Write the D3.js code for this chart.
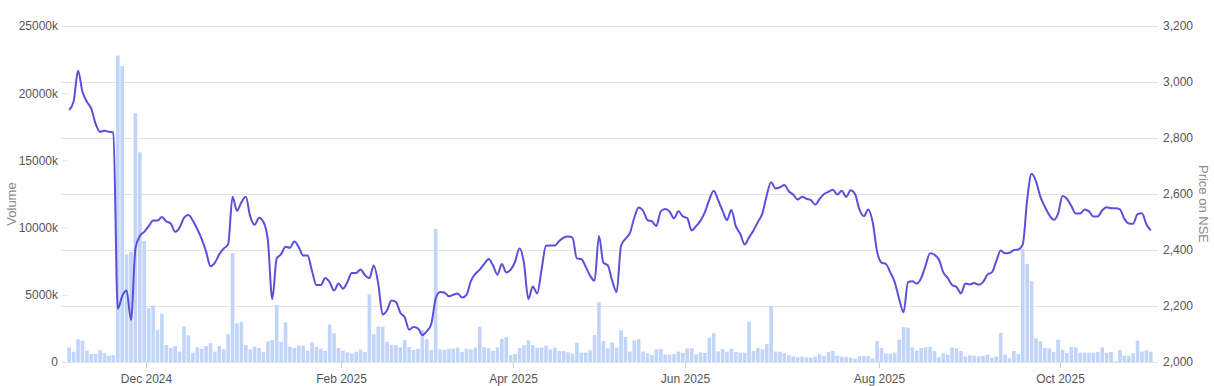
<!DOCTYPE html>
<html>
<head>
<meta charset="utf-8">
<script src="https://cdn.jsdelivr.net/npm/d3@7"></script>
<style>
    body { margin: 0; background: #fff; }
    svg { display: block; font-family: "Liberation Sans", Arial, sans-serif; }
</style>
</head>
<body>
<div id="chart"></div>
<script>
// daily volume, in thousands of shares (one value per trading day)
const volume = [
    1070, 770, 1690, 1590, 840, 600, 600, 890, 670, 470,
    520, 22800, 22000, 8000, 8200, 18500, 15600, 9000, 4000, 4200,
    2400, 3600, 1260, 1030, 1190, 770, 2630, 1990, 690, 1090,
    990, 1190, 1390, 770, 1190, 940, 2060, 8100, 2880, 3000,
    1260, 940, 1140, 1040, 740, 1540, 1640, 4240, 1510, 2950,
    1140, 1040, 1220, 1220, 840, 1460, 1140, 990, 820, 2800,
    2130, 1040, 840, 720, 640, 770, 920, 740, 5030, 2060,
    2630, 2630, 1510, 1260, 1260, 1090, 1640, 1090, 890, 990,
    2380, 1690, 890, 9900, 940, 890, 970, 990, 1070, 740,
    990, 940, 1070, 2630, 1090, 1020, 840, 1090, 1710, 1860,
    520, 600, 1040, 1240, 1610, 1260, 1040, 1070, 1220, 940,
    1070, 820, 820, 720, 640, 1440, 690, 690, 870, 2010,
    4440, 1560, 1020, 1460, 1070, 2360, 1860, 770, 1610, 1690,
    770, 640, 520, 940, 970, 550, 550, 600, 790, 690,
    1020, 1020, 570, 720, 670, 1810, 2130, 790, 970, 770,
    970, 740, 690, 690, 3000, 820, 1040, 940, 1340, 4170,
    770, 770, 640, 500, 420, 370, 400, 350, 320, 400,
    570, 450, 740, 820, 470, 400, 370, 320, 250, 420,
    450, 450, 270, 1560, 1040, 640, 620, 690, 1660, 2600,
    2550, 1090, 840, 1040, 1090, 1120, 820, 370, 640, 550,
    1090, 1020, 820, 420, 500, 470, 420, 450, 550, 320,
    400, 2180, 550, 270, 820, 600, 8400, 7300, 6000, 1760,
    1540, 1040, 1020, 740, 1660, 920, 670, 1120, 1090, 690,
    690, 690, 690, 740, 1070, 690, 740, 50, 890, 470,
    470, 640, 1590, 770, 870, 770
]

// closing price on NSE
const price = [
    2900, 2930, 3040, 2965, 2930, 2905, 2850, 2822, 2826, 2822,
    2820, 2190, 2235, 2255, 2150, 2405, 2450, 2465, 2485, 2505,
    2505, 2518, 2502, 2495, 2465, 2480, 2515, 2525, 2505, 2475,
    2440, 2395, 2342, 2355, 2385, 2405, 2420, 2590, 2540, 2570,
    2590, 2520, 2490, 2515, 2500, 2435, 2225, 2370, 2385, 2412,
    2408, 2430, 2410, 2380, 2380, 2325, 2275, 2275, 2300, 2285,
    2255, 2280, 2262, 2285, 2318, 2318, 2330, 2310, 2300, 2345,
    2280, 2170, 2185, 2220, 2215, 2176, 2160, 2115, 2125, 2120,
    2096, 2110, 2135, 2225, 2250, 2248, 2235, 2240, 2245, 2230,
    2240, 2290, 2315, 2330, 2350, 2368, 2345, 2312, 2350, 2320,
    2330, 2358, 2405, 2355, 2225, 2270, 2245, 2330, 2415, 2416,
    2416, 2432, 2444, 2448, 2444, 2370, 2368, 2340, 2308, 2290,
    2450, 2355, 2345, 2290, 2250, 2415, 2440, 2460, 2515, 2552,
    2540, 2507, 2502, 2486, 2538, 2546, 2537, 2513, 2538, 2520,
    2514, 2470, 2485, 2505, 2535, 2580, 2612, 2578, 2540, 2507,
    2543, 2485, 2458, 2420, 2445, 2470, 2500, 2530, 2595, 2642,
    2620, 2624, 2632, 2610, 2598, 2580, 2590, 2583, 2578, 2562,
    2583, 2600, 2608, 2615, 2598, 2612, 2590, 2613, 2600, 2545,
    2521, 2545, 2500, 2395, 2355, 2350, 2320, 2285, 2225, 2178,
    2285, 2288, 2280, 2300, 2345, 2388, 2383, 2366, 2320, 2300,
    2275, 2268, 2245, 2280, 2277, 2282, 2276, 2285, 2312, 2320,
    2360, 2398, 2388, 2390, 2400, 2402, 2420, 2580, 2672, 2645,
    2590, 2555, 2525, 2508, 2530, 2593, 2583, 2557, 2530, 2530,
    2545, 2538, 2520, 2520, 2542, 2553, 2549, 2549, 2545, 2512,
    2495, 2494, 2528, 2531, 2492, 2470
]

// first trading day of each labelled month (index into the arrays above)
const monthStarts = [18, 62, 101, 140, 184, 225]
const monthLabels = ["Dec 2024", "Feb 2025", "Apr 2025", "Jun 2025", "Aug 2025", "Oct 2025"]

const volumeTicks = [0, 5000, 10000, 15000, 20000, 25000]
const priceTicks = [2000, 2200, 2400, 2600, 2800, 3000, 3200]

const width = 1214
const height = 386
const plotLeft = 68
const plotRight = 1158
const plotTop = 26
const plotBottom = 362

const x = d3
    .scaleBand()
    .domain(d3.range(volume.length))
    .range([67, 1153])
    .paddingInner(0.18)
    .paddingOuter(0.09);

const yVolume = d3
    .scaleLinear()
    .domain([0, 25000])
    .range([plotBottom, plotTop]);

const yPrice = d3
    .scaleLinear()
    .domain([2000, 3200])
    .range([plotBottom, plotTop]);

const svg = d3.select("#chart").append("svg")
    .attr("width", width)
    .attr("height", height)

//gridlines follow the price axis
svg.append("g")
    .selectAll("line")
    .data(priceTicks)
    .enter().append("line")
    .attr("x1", plotLeft - 6)
    .attr("x2", plotRight)
    .attr("y1", d => Math.round(yPrice(d)) + 0.5)
    .attr("y2", d => Math.round(yPrice(d)) + 0.5)
    .attr("stroke", "#e3e3e3")

//left axis: volume
const leftAxis = svg.append("g")
    .attr("transform", "translate(" + plotLeft + ",0)")
    .call(d3.axisLeft(yVolume)
        .tickValues(volumeTicks)
        .tickSize(6)
        .tickPadding(4)
        .tickFormat(d => d === 0 ? "0" : d + "k"))
leftAxis.select(".domain").remove()
leftAxis.selectAll("line").attr("stroke", "#e3e3e3")
leftAxis.selectAll("text")
    .attr("fill", "#555")
    .style("font-size", "12px")
    .style("font-family", "'Liberation Sans', Arial, sans-serif")

//right axis: price
const rightAxis = svg.append("g")
    .attr("transform", "translate(" + plotRight + ",0)")
    .call(d3.axisRight(yPrice)
        .tickValues(priceTicks)
        .tickSize(0)
        .tickPadding(5)
        .tickFormat(d3.format(",")))
rightAxis.select(".domain").remove()
rightAxis.selectAll("text")
    .attr("fill", "#555")
    .style("font-size", "12px")
    .style("font-family", "'Liberation Sans', Arial, sans-serif")

//draw bars
svg.append("g")
    .selectAll("rect")
    .data(volume)
    .enter().append("rect")
    .attr("x", (d, i) => x(i))
    .attr("width", x.bandwidth())
    .attr("y", d => yVolume(d))
    .attr("height", d => plotBottom - yVolume(d))
    .attr("fill", "#c1d5fa")

//price line
const line = d3.line()
    .x((d, i) => x(i) + x.bandwidth() / 2)
    .y(d => yPrice(d))
    .curve(d3.curveMonotoneX)

svg.append("path")
    .datum(price)
    .attr("d", line)
    .attr("fill", "none")
    .attr("stroke", "#5b4fdb")
    .attr("stroke-width", 2)

//month ticks on the x axis
const gap = (x.step() - x.bandwidth()) / 2
const months = svg.append("g")
    .selectAll("g")
    .data(monthStarts)
    .enter().append("g")
    .attr("transform", d => "translate(" + (Math.round(x(d) - gap) + 0.5) + ",0)")
months.append("line")
    .attr("y1", plotBottom)
    .attr("y2", plotBottom + 6)
    .attr("stroke", "#ccc")
months.append("text")
    .attr("y", 383)
    .attr("text-anchor", "middle")
    .attr("fill", "#555")
    .style("font-size", "12px")
    .text((d, i) => monthLabels[i])

//axis titles
svg.append("text")
    .attr("transform", "translate(16,204) rotate(-90)")
    .attr("text-anchor", "middle")
    .attr("fill", "#8a8a8a")
    .style("font-size", "13px")
    .text("Volume")

svg.append("text")
    .attr("transform", "translate(1199,204) rotate(90)")
    .attr("text-anchor", "middle")
    .attr("fill", "#8a8a8a")
    .style("font-size", "13px")
    .text("Price on NSE")
</script>
</body>
</html>
